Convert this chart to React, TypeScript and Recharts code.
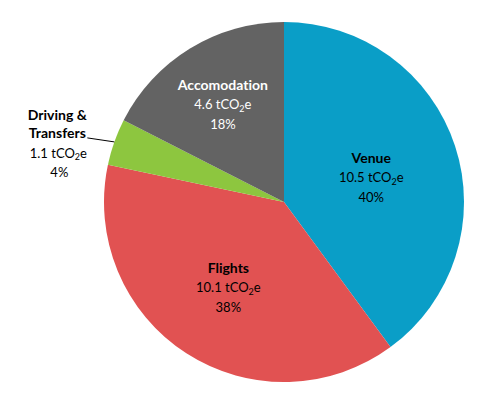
import React from 'react';
import { PieChart, Pie, Cell } from 'recharts';

const CATEGORIES = ['Venue', 'Flights', 'Driving & Transfers', 'Accomodation'];
const EMISSIONS = [10.5, 10.1, 1.1, 4.6]; // tCO2e
const PERCENTS = ['40%', '38%', '4%', '18%'];

const COLORS = ['#0A9EC7', '#E15252', '#8DC63F', '#636363'];
const TEXT_COLORS = ['#000000', '#000000', '#000000', '#FFFFFF'];
// label placement: fraction of radius along the mid angle, plus a small vertical nudge
const LABEL_RADIUS = [0.51, 0.57, 1.0, 0.65];
const LABEL_DY = [4, -1, 0, 2];

const FONT = 'Lato, "Open Sans", sans-serif';
const TEXT_STYLE = { fontVariantLigatures: 'none' } as React.CSSProperties;
const RADIAN = Math.PI / 180;

const data = CATEGORIES.map((name, i) => ({ name, value: EMISSIONS[i], pct: PERCENTS[i] }));

const Co2Line = ({ x, y, value, fill }: any) => (
    <text x={x} y={y} textAnchor="middle" dominantBaseline="central" fill={fill} fontSize={13} fontFamily={FONT} style={TEXT_STYLE}>
        {`${value} tCO`}
        <tspan fontSize={9} dy={3.5}>2</tspan>
        <tspan dy={-3.5}>e</tspan>
    </text>
);

const renderLabel = (props: any) => {
    const { cx, cy, midAngle, outerRadius, index } = props;
    const item = data[index];
    const fill = TEXT_COLORS[index];
    const lh = 19.5;

    if (index === 2) {
        // outside label with a leader line
        const ex = cx + outerRadius * Math.cos(-midAngle * RADIAN);
        const ey = cy + outerRadius * Math.sin(-midAngle * RADIAN);
        const lx = ex - 27;
        const ly = ey - 4;
        const tx = lx - 30;
        return (
            <g>
                <path d={`M${ex},${ey}L${lx},${ly}`} stroke="#000" strokeWidth={1} fill="none" />
                <text x={tx} y={ly - 23} textAnchor="middle" dominantBaseline="central" fill={fill} fontSize={14} fontWeight="bold" fontFamily={FONT} style={TEXT_STYLE}>Driving &amp;</text>
                <text x={tx} y={ly - 5} textAnchor="middle" dominantBaseline="central" fill={fill} fontSize={14} fontWeight="bold" fontFamily={FONT} style={TEXT_STYLE}>Transfers</text>
                <Co2Line x={tx + 1} y={ly + 15} value={item.value} fill={fill} />
                <text x={tx + 2} y={ly + 34} textAnchor="middle" dominantBaseline="central" fill={fill} fontSize={13} fontFamily={FONT} style={TEXT_STYLE}>{item.pct}</text>
            </g>
        );
    }

    const r = outerRadius * LABEL_RADIUS[index];
    const x = cx + r * Math.cos(-midAngle * RADIAN);
    const y = cy + r * Math.sin(-midAngle * RADIAN) + LABEL_DY[index];
    return (
        <g>
            <text x={x} y={y - lh} textAnchor="middle" dominantBaseline="central" fill={fill} fontSize={14} fontWeight="bold" fontFamily={FONT} style={TEXT_STYLE}>{item.name}</text>
            <Co2Line x={x} y={y} value={item.value} fill={fill} />
            <text x={x} y={y + lh} textAnchor="middle" dominantBaseline="central" fill={fill} fontSize={13} fontFamily={FONT} style={TEXT_STYLE}>{item.pct}</text>
        </g>
    );
};

const App = () => {
    return (
        <div style={{ position: 'absolute', left: 0, top: 0, width: 488, height: 397, background: '#fff' }}>
            <PieChart width={488} height={397} margin={{ top: 0, right: 0, bottom: 0, left: 0 }}>
                <Pie
                    data={data}
                    dataKey="value"
                    nameKey="name"
                    cx={284}
                    cy={202}
                    outerRadius={180}
                    startAngle={90}
                    endAngle={-270}
                    stroke="none"
                    label={renderLabel}
                    labelLine={false}
                    isAnimationActive={false}
                >
                    {data.map((d, i) => (
                        <Cell key={d.name} fill={COLORS[i]} />
                    ))}
                </Pie>
            </PieChart>
        </div>
    );
};

export default App;
